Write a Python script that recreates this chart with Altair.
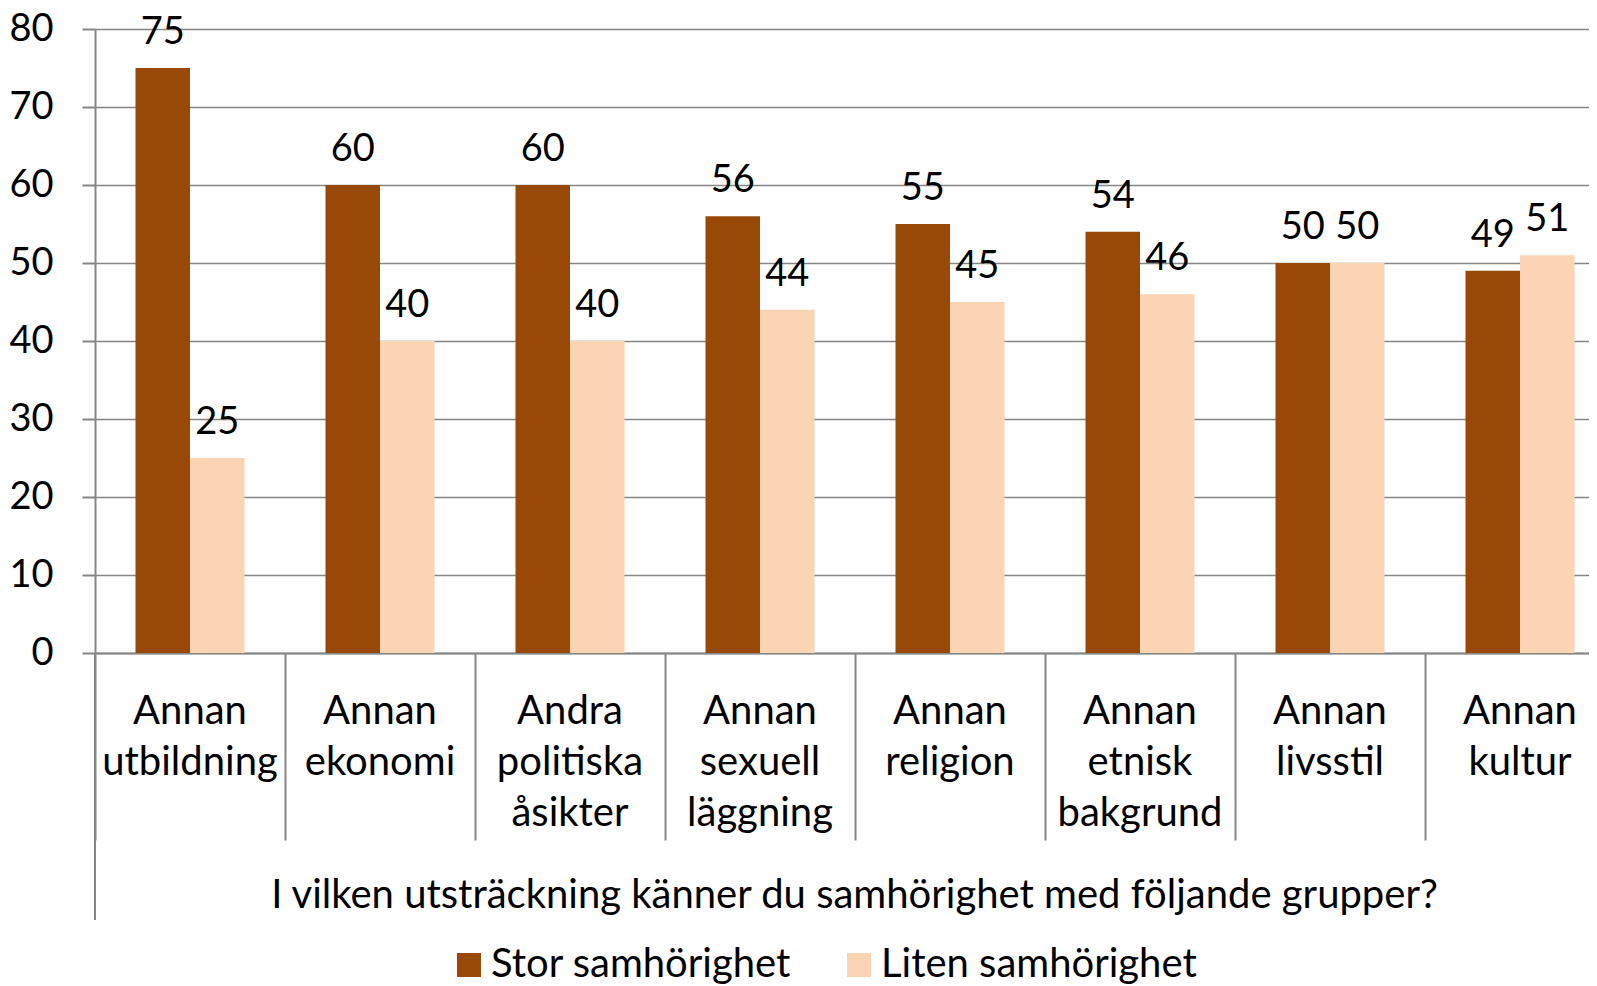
import altair as alt
import pandas as pd

categories = [
    "Annan|utbildning",
    "Annan|ekonomi",
    "Andra|politiska|åsikter",
    "Annan|sexuell|läggning",
    "Annan|religion",
    "Annan|etnisk|bakgrund",
    "Annan|livsstil",
    "Annan|kultur",
]
series = ["Stor samhörighet", "Liten samhörighet"]
stor = [75, 60, 60, 56, 55, 54, 50, 49]
liten = [25, 40, 40, 44, 45, 46, 50, 51]
colors = ["#984807", "#FBD4B4"]
y_ticks = [0, 10, 20, 30, 40, 50, 60, 70, 80]
x_title = "I vilken utsträckning känner du samhörighet med följande grupper?"

rows = []
for c, s, l in zip(categories, stor, liten):
    rows.append({"cat": c, "group": series[0], "value": s})
    rows.append({"cat": c, "group": series[1], "value": l})
df = pd.DataFrame(rows)

FONT = "Lato"
GRAY = "#868686"
W = 1494
H = 624
FS = 38      # digits
FW = 40      # words

x_enc = alt.X(
    "cat:N",
    sort=categories,
    scale=alt.Scale(range=[0, 1520], paddingInner=0, paddingOuter=0),
    axis=alt.Axis(
        title=x_title,
        bandPosition=0,
        tickSize=187,
        tickWidth=2,
        tickColor=GRAY,
        domainColor=GRAY,
        domainWidth=2,
        labelExpr="split(datum.label, '|')",
        labelAngle=0,
        labelAlign="center",
        labelFont=FONT,
        labelFontSize=FW,
        labelColor="black",
        labelBaseline="alphabetic",
        labelPadding=-117,
        labelLineHeight=51,
        labelLimit=0,
        labelOverlap=False,
        grid=False,
        titleFont=FONT,
        titleFontSize=FW,
        titleFontWeight="normal",
        titleColor="black",
        titleX=759,
        titleY=254,
        titleAlign="center",
        titleBaseline="alphabetic",
        titleLimit=0,
    ),
)

xoff_enc = alt.XOffset(
    "group:N", sort=series, scale=alt.Scale(paddingOuter=0.743, paddingInner=0)
)

y_enc = alt.Y(
    "value:Q",
    scale=alt.Scale(domain=[0, 80], nice=False),
    axis=alt.Axis(
        title=None,
        values=y_ticks,
        tickSize=13,
        tickWidth=2,
        tickColor=GRAY,
        domainColor=GRAY,
        domainWidth=2,
        labelFont=FONT,
        labelFontSize=FS,
        labelColor="black",
        labelPadding=29,
        gridColor=GRAY,
        gridWidth=1.5,
    ),
)

base = alt.Chart(df).encode(x=x_enc, xOffset=xoff_enc, y=y_enc)

bars = base.mark_bar().encode(
    color=alt.Color(
        "group:N",
        sort=series,
        scale=alt.Scale(domain=series, range=colors),
        legend=alt.Legend(
            title=None,
            orient="none",
            legendX=354,
            legendY=916,
            direction="horizontal",
            symbolType="square",
            symbolSize=576,
            symbolStrokeWidth=0,
            labelFont=FONT,
            labelFontSize=FW,
            labelColor="black",
            labelOffset=2,
            columnPadding=47,
            padding=0,
            labelLimit=0,
        ),
    )
)

labels = base.mark_text(
    font=FONT, fontSize=FS, baseline="alphabetic", dy=-24, color="black"
).encode(text="value:Q")

ext = alt.Chart(pd.DataFrame({"v": [0]})).mark_rule(color=GRAY, strokeWidth=2).encode(
    x=alt.value(0), y=alt.value(H), y2=alt.value(891)
)

chart = (
    alt.layer(bars, labels, ext)
    .properties(
        width=W,
        height=H,
        autosize=alt.AutoSizeParams(type="none"),
        padding={"left": 87, "top": 21, "right": 0, "bottom": 333},
    )
    .configure_view(stroke=None)
    .configure(background="white")
)

chart.save("out.html", embed_options={"renderer": "svg", "actions": False})
